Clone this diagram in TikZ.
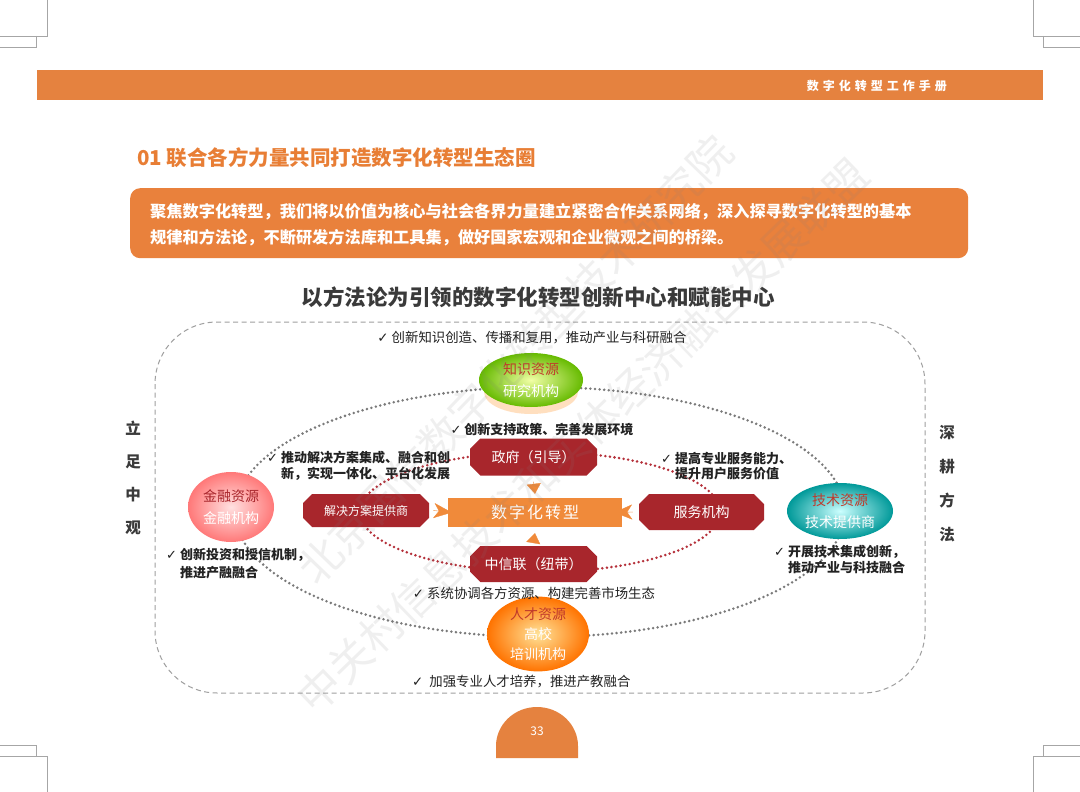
\documentclass[tikz,border=0pt]{standalone}
\usepackage{fontspec}
\setmainfont{Noto Sans CJK SC}
\newfontfamily\dejavu{DejaVu Sans}
\usetikzlibrary{shapes.misc,shapes.geometric,arrows.meta,calc}
\definecolor{baror}{HTML}{E5823F}
\definecolor{titleor}{HTML}{E87E35}
\definecolor{boxor}{HTML}{E9813C}
\definecolor{subgray}{HTML}{3A3A3A}
\definecolor{dred}{HTML}{A8262C}
\definecolor{ctror}{HTML}{F08A3A}
\definecolor{txt}{HTML}{222222}
\definecolor{lblred}{HTML}{C0392B}
\definecolor{dotred}{HTML}{B5303A}
\definecolor{dotgray}{HTML}{7A7A7A}
\newcommand{\ck}{{\dejavu ✓}}
\tikzset{
  cropm/.style={draw=gray!70, line width=0.7pt},
  redbox/.style={chamfered rectangle, chamfered rectangle xsep=9pt, fill=dred, text=white, inner sep=0pt, font=\fontsize{14}{14}\selectfont},
  sphere/.style={ellipse, inner sep=0pt, align=center, text=white, font=\fontsize{14}{22}\selectfont},
  otri/.style={draw=ctror, fill=ctror, line width=0.3pt, -{Stealth[length=18pt,width=15pt,inset=5pt]}},
  vtri/.style={draw=ctror, fill=ctror, line width=0.3pt, -{Triangle[length=10pt,width=14pt]}},
  note/.style={text=txt, align=left, inner sep=0pt, font=\bfseries\fontsize{13}{15.5}\selectfont},
  notereg/.style={text=txt, inner sep=0pt, font=\fontsize{13.4}{15}\selectfont},
  vlabel/.style={text=subgray, align=center, inner sep=0pt, font=\bfseries\fontsize{15.5}{33}\selectfont},
  wmark/.style={text=gray, opacity=0.12, inner sep=0pt, font=\fontsize{43}{43}\selectfont},
  bigdots/.style={line width=2.8pt, dash pattern=on 0pt off 4.6pt, line cap=round},
}
\begin{document}
\begin{tikzpicture}[x=1pt,y=-1pt]
\useasboundingbox (0,0) rectangle (1080,792);
\fill[white] (0,0) rectangle (1080,792);
% crop marks
\draw[cropm] (47,0) -- (47,36) -- (0,36);
\draw[cropm] (36.5,36) -- (36.5,47) -- (0,47);
\draw[cropm] (1033,0) -- (1033,36) -- (1080,36);
\draw[cropm] (1043.5,36) -- (1043.5,47) -- (1080,47);
\draw[cropm] (47,792) -- (47,756) -- (0,756);
\draw[cropm] (36.5,756) -- (36.5,745) -- (0,745);
\draw[cropm] (1033,792) -- (1033,756) -- (1080,756);
\draw[cropm] (1043.5,756) -- (1043.5,745) -- (1080,745);
% header bar
\fill[baror] (37,70) rectangle (1043,100);
\node[anchor=east, text=white, inner sep=0pt, font=\bfseries\fontsize{12}{12}\selectfont] (hdr) at (947,86)
  {数\hspace{4pt}字\hspace{4pt}化\hspace{4pt}转\hspace{4pt}型\hspace{4pt}工\hspace{4pt}作\hspace{4pt}手\hspace{4pt}册};
% title
\node[anchor=west, text=titleor, inner sep=0pt, font=\bfseries\fontsize{20.5}{20.5}\selectfont] (title) at (137,158)
  {01 联合各方力量共同打造数字化转型生态圈};
% intro box
\node[fill=boxor, rounded corners=10pt, minimum width=838pt, minimum height=70pt, anchor=north west, inner sep=0pt] (intro) at (130,188) {};
\node[anchor=west, text=white, align=left, inner sep=0pt, font=\bfseries\fontsize{16.2}{26}\selectfont] (introtxt) at (150,224.5)
  {聚焦数字化转型，我们将以价值为核心与社会各界力量建立紧密合作关系网络，深入探寻数字化转型的基本\\
   规律和方法论，不断研发方法库和工具集，做好国家宏观和企业微观之间的桥梁。};
% subtitle
\node[text=subgray, inner sep=0pt, font=\bfseries\fontsize{21.5}{21.5}\selectfont] (sub) at (538,297)
  {以方法论为引领的数字化转型创新中心和赋能中心};
% dashed frame
\draw[gray!75, line width=1pt, dash pattern=on 5pt off 3.5pt, rounded corners=62pt] (155,322) rectangle (925,693);
% dotted ellipses
\draw[bigdots, dotgray] (540,512) ellipse [x radius=305, y radius=125];
\draw[bigdots, dotred] (540,512) ellipse [x radius=180, y radius=60];
% resource spheres
\fill[orange!25] (531,392) ellipse [x radius=47, y radius=22];
\node[sphere, minimum width=104pt, minimum height=54pt, inner color=green!15!yellow!35, outer color=green!55!black!60!yellow, shading=radial] (kn) at (531,380)
  {\textcolor{lblred}{知识资源}\\研究机构};
\node[sphere, minimum width=86pt, minimum height=70pt, inner color=red!12, outer color=red!45!pink!90, shading=radial] (fin) at (231,507)
  {\textcolor{dred}{金融资源}\\金融机构};
\node[sphere, minimum width=106pt, minimum height=56pt, inner color=cyan!20, outer color=teal!80!cyan, shading=radial] (tech) at (840,511)
  {\textcolor{lblred}{技术资源}\\技术提供商};
\node[sphere, minimum width=102pt, minimum height=74pt, font=\fontsize{14}{20}\selectfont, inner color=yellow!45!orange!40, outer color=orange!90!red, shading=radial] (tal) at (538,634)
  {\textcolor{lblred}{人才资源}\\高校\\培训机构};
% red boxes
\node[redbox, minimum width=127pt, minimum height=37pt] (gov) at (533.5,457) {政府（引导）};
\node[redbox, minimum width=127pt, minimum height=36pt] (zxl) at (533.5,564) {中信联（纽带）};
\node[redbox, minimum width=126pt, minimum height=33pt, font=\fontsize{12}{12}\selectfont] (sol) at (366,510.5) {解决方案提供商};
\node[redbox, minimum width=125pt, minimum height=36pt] (svc) at (701.5,512) {服务机构};
% center
\node[fill=ctror, minimum width=174pt, minimum height=29pt, inner sep=0pt, text=white, font=\fontsize{16}{16}\selectfont] (ctr) at (535,512.5)
  {数\hspace{2pt}字\hspace{2pt}化\hspace{2pt}转\hspace{2pt}型};
% arrows into center
\draw[otri] ($(sol.east)+(4,0)$) -- ($(ctr.west)+(4,0)$);
\draw[otri] ($(svc.west)+(-6,0)$) -- ($(ctr.east)+(-8,0)$);
\draw[vtri] ($(gov.south)+(0,6)$) -- ($(ctr.north)+(0,-4)$);
\draw[vtri] ($(zxl.north)+(0,-4)$) -- ($(ctr.south)+(0,6)$);
% notes
\node[notereg] (n1) at (532,338) {\ck\ 创新知识创造、传播和复用，推动产业与科研融合};
\node[note] (n2) at (542,430) {\ck\ 创新支持政策、完善发展环境};
\node[note, anchor=north west] (n3) at (267,451) {\ck\ 推动解决方案集成、融合和创\\\phantom{\ck\ }新，实现一体化、平台化发展};
\node[note, anchor=north west] (n4) at (661,452) {\ck\ 提高专业服务能力、\\\phantom{\ck\ }提升用户服务价值};
\node[note, anchor=north west, font=\bfseries\fontsize{13}{18}\selectfont] (n5) at (166,548) {\ck\ 创新投资和授信机制，\\\phantom{\ck\ }推进产融融合};
\node[note, anchor=north west] (n6) at (774,545) {\ck\ 开展技术集成创新，\\\phantom{\ck\ }推动产业与科技融合};
\node[notereg] (n7) at (534,593) {\ck\ 系统协调各方资源、构建完善市场生态};
\node[notereg, anchor=west] (n8) at (412,682) {\ck\ \ 加强专业人才培养，推进产教融合};
% side labels
\node[vlabel] (left) at (133,478) {立\\足\\中\\观};
\node[vlabel, font=\bfseries\fontsize{15.5}{34}\selectfont] (right) at (947,484) {深\\耕\\方\\法};
% page number
\fill[baror] (496,758) -- (496,746) arc[start angle=180, end angle=360, x radius=41, y radius=39] -- (578,758) -- cycle;
\node[text=white, inner sep=0pt, font=\fontsize{12}{12}\selectfont] (pg) at (537,731) {33};
% watermark
\node[wmark, rotate=46] (wm1) at (515,360) {北京国信数字化转型技术研究院};
\node[wmark, rotate=44] (wm2) at (583,436) {中关村信息技术和实体经济融合发展联盟};
\end{tikzpicture}
\end{document}
